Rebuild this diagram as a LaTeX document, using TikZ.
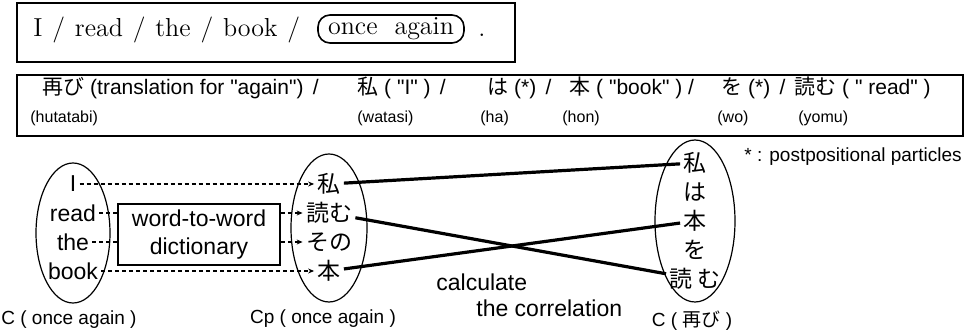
\documentclass[tikz,border=0pt]{standalone}
\usepackage{fontspec}
\newfontfamily\hvfont{Liberation Sans}
\newfontfamily\jpfont{Noto Sans CJK JP}
\usetikzlibrary{positioning,arrows.meta,shapes.geometric}
\tikzset{
  boxf/.style={draw, line width=1pt},
  enw/.style={font=\fontsize{13}{15}\selectfont, inner sep=0pt},
  wrd/.style={font=\hvfont\fontsize{11.5}{14}\selectfont, inner sep=1.5pt},
  jw/.style={font=\jpfont\fontsize{11.5}{14}\selectfont, inner sep=1.5pt},
  seg/.style={font=\hvfont\fontsize{10.5}{12}\selectfont, anchor=base west, inner sep=0pt},
  sub/.style={font=\hvfont\fontsize{8}{9}\selectfont, anchor=base west, inner sep=0pt},
  capt/.style={font=\hvfont\fontsize{9.5}{11}\selectfont, inner sep=1pt},
  grp/.style={draw, ellipse, line width=0.6pt, inner sep=0pt},
  dsh/.style={dash pattern=on 2pt off 1.5pt, line width=0.6pt},
  dar/.style={dsh, -{Stealth[length=3pt, width=2.5pt]}},
  cor/.style={line width=1.6pt},
}
\begin{document}
\begin{tikzpicture}[x=0.5pt, y=-0.5pt]
  \useasboundingbox (0,0) rectangle (969,331);
  % english sentence
  \draw[boxf] (17,3) rectangle (515,62);
  \node[enw, anchor=base west] (en) at (33,37) {\spaceskip=4.9pt I / read / the / book /};
  \node[enw, draw, line width=0.8pt, rounded corners=6pt, minimum width=73pt, minimum height=14pt] (once) at (391,29) {once\ \ again};
  \node[enw, anchor=base west] (dot) at (478,37) {.};
  % japanese sentence
  \draw[boxf] (17,75) rectangle (963,136);
  \node[seg] (hutatabi) at (42,95) {{\jpfont 再び} (translation for "again") \,/};
  \node[seg] (watasi) at (357,95) {{\jpfont 私} ( "I" ) \,/};
  \node[seg] (ha) at (487,95) {{\jpfont は} (*) \,/};
  \node[seg] (hon) at (569,95) {{\jpfont 本} ( "book" ) /};
  \node[seg] (wo) at (721,95) {{\jpfont を} (*) \,/};
  \node[seg] (yomu) at (794,95) {{\jpfont 読む} ( " read" )};
  \node[sub] (r-hutatabi) at (30,123) {(hutatabi)};
  \node[sub] (r-watasi) at (357,123) {(watasi)};
  \node[sub] (r-ha) at (480,123) {(ha)};
  \node[sub] (r-hon) at (562,123) {(hon)};
  \node[sub] (r-wo) at (717,123) {(wo)};
  \node[sub] (r-yomu) at (798,123) {(yomu)};
  \node[capt, anchor=west] (note) at (742,157) {* : postpositional particles};
  % C (once again)
  \foreach \w [count=\i] in {I,read,the,book}
    \node[wrd] (e\i) at (73,155+29*\i) {\w};
  \node[grp, minimum width=37pt, minimum height=70pt] (C) at (73,233) {};
  \node[capt] (cC) at (69,320) {C ( once again )};
  % dictionary
  \node[draw, line width=0.8pt, wrd, align=center, minimum width=81pt, minimum height=30.5pt] (dict) at (199,234.5) {word-to-word\\dictionary};
  % Cp (once again)
  \foreach \w [count=\i] in {私,読む,その,本}
    \node[jw] (m\i) at (329,155+29*\i) {\w};
  \node[grp, minimum width=38pt, minimum height=74pt] (Cp) at (329,228) {};
  \node[capt] (cCp) at (323,319) {Cp ( once again )};
  % C (hutatabi)
  \foreach \w [count=\i] in {私,は,本,を,読\ む}
    \node[jw] (r\i) at (695,134+29*\i) {\w};
  \node[grp, minimum width=40pt, minimum height=81pt] (Cj) at (695,221) {};
  \node[capt] (cCj) at (692,321) {C ( {\jpfont 再び} )};
  % translation links
  \draw[dar] (e1) -- (m1);
  \draw[dsh] (e2) -- (dict.west |- e2);
  \draw[dar] (dict.east |- m2) -- (m2);
  \draw[dsh] (e3) -- (dict.west |- e3);
  \draw[dar] (dict.east |- m3) -- (m3);
  \draw[dar] (e4) -- (m4);
  % correlation
  \draw[cor] (m1) -- (r1);
  \draw[cor] (m2) -- (r5);
  \draw[cor] (m4) -- (r3);
  \node[wrd, anchor=west] (calc) at (433,282) {calculate};
  \node[wrd, anchor=west] (corr) at (473,308) {the correlation};
\end{tikzpicture}
\end{document}
